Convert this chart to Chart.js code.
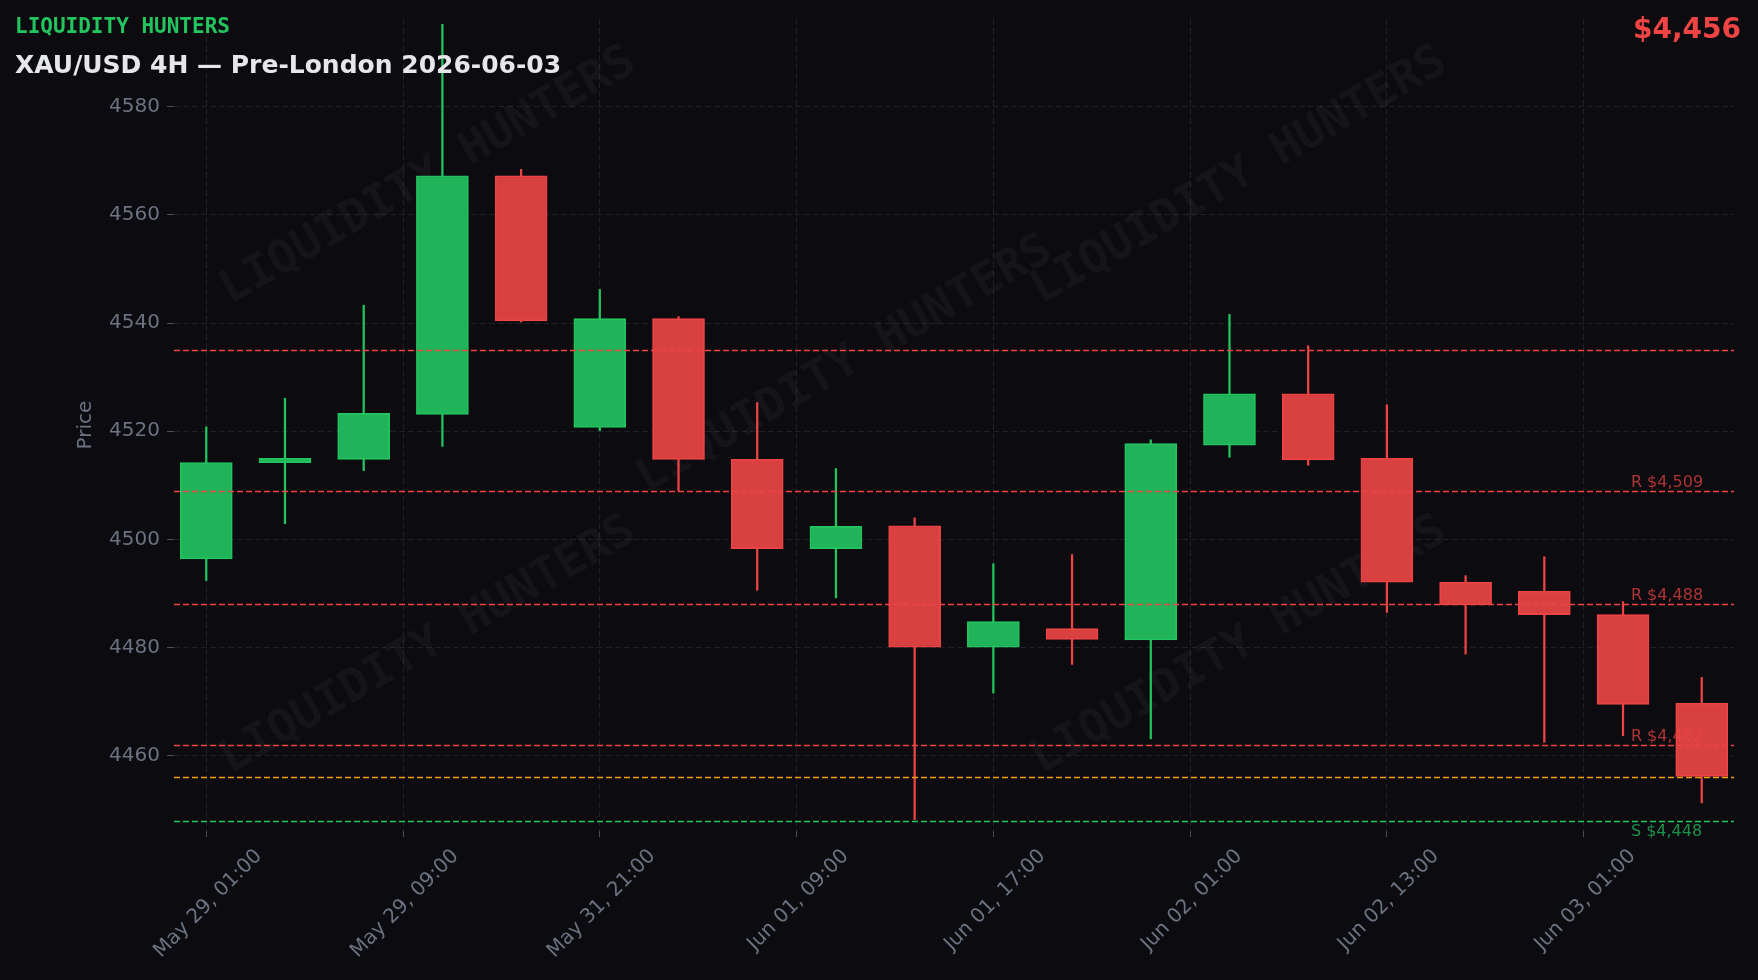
<!DOCTYPE html>
<html>
<head>
<meta charset="utf-8">
<script src="https://cdn.jsdelivr.net/npm/chart.js@4.4.1/dist/chart.umd.min.js"></script>
<style>
  html, body { margin: 0; padding: 0; background: #0b0b10; }
  canvas { display: block; }
</style>
</head>
<body>
<canvas id="candles" width="1758" height="980"></canvas>
<script>
// 4H candles, XAU/USD
const opens  = [4496.4, 4514.2, 4514.8, 4523.1, 4567.2, 4520.7, 4540.8, 4514.8, 4498.3, 4502.5,
                4480.1, 4483.5, 4481.4, 4517.4, 4526.9, 4515.0, 4492.1, 4490.4, 4486.1, 4469.7];
const highs  = [4520.8, 4526.1, 4543.3, 4595.2, 4568.4, 4546.2, 4541.2, 4525.3, 4513.1, 4504.0,
                4495.5, 4497.2, 4518.4, 4541.6, 4535.8, 4524.9, 4493.3, 4496.8, 4488.5, 4474.5];
const lows   = [4492.4, 4502.9, 4512.7, 4517.2, 4540.2, 4520.1, 4509.0, 4490.6, 4489.2, 4448.2,
                4471.6, 4476.9, 4463.1, 4515.2, 4513.7, 4486.5, 4478.8, 4462.5, 4463.7, 4451.3];
const closes = [4514.2, 4515.0, 4523.3, 4567.2, 4540.4, 4540.8, 4514.8, 4498.3, 4502.4, 4480.1,
                4484.8, 4481.5, 4517.7, 4526.9, 4514.7, 4492.1, 4487.9, 4486.1, 4469.5, 4456.2];

const xTickPos = [0, 2.5, 5, 7.5, 10, 12.5, 15, 17.5];
const xTickLabels = ['May 29, 01:00', 'May 29, 09:00', 'May 31, 21:00', 'Jun 01, 09:00',
                     'Jun 01, 17:00', 'Jun 02, 01:00', 'Jun 02, 13:00', 'Jun 03, 01:00'];
const yTicks = [4460, 4480, 4500, 4520, 4540, 4560, 4580];

// levels: price, label, kind
const levelPrices = [4535, 4509, 4488, 4462, 4456, 4448];
const levelLabels = ['', 'R $4,509', 'R $4,488', 'R $4,462', '', 'S $4,448'];
const levelKinds  = ['R', 'R', 'R', 'R', 'P', 'S'];
const lastPrice = '$4,456';

const GREEN = '#22c55e', GREEN_FILL = '#21b35a';
const RED = '#ef4444', RED_FILL = '#d94040';
const GRID = '#1e1f27', TXT = '#6b7280';

const idx = opens.map((_, i) => i);
const up = i => closes[i] >= opens[i];

const overlay = {
  id: 'overlay',
  beforeDatasetsDraw(chart) {
    const { ctx, chartArea: a } = chart;
    ctx.save();
    ctx.beginPath();
    ctx.rect(a.left, a.top, a.right - a.left, a.bottom - a.top);
    ctx.clip();
    ctx.font = 'bold 46px "DejaVu Sans Mono"';
    ctx.fillStyle = 'rgba(255,255,255,0.04)';
    ctx.textAlign = 'center';
    ctx.textBaseline = 'middle';
    const spots = [[0.163, 0.194], [0.43, 0.426], [0.683, 0.194], [0.163, 0.772], [0.683, 0.772]];
    spots.forEach(([fx, fy]) => {
      ctx.save();
      ctx.translate(a.left + fx * (a.right - a.left), a.top + fy * (a.bottom - a.top));
      ctx.rotate(-30 * Math.PI / 180);
      ctx.fillText('LIQUIDITY HUNTERS', 0, 0);
      ctx.restore();
    });
    ctx.restore();
  },
  afterDatasetsDraw(chart) {
    const { ctx, chartArea: a, scales } = chart;
    const ys = scales.y, xs = scales.x;
    ctx.save();
    levelPrices.forEach((p, i) => {
      const y = Math.round(ys.getPixelForValue(p)) + 0.5;
      const kind = levelKinds[i];
      ctx.strokeStyle = kind === 'R' ? RED : kind === 'S' ? GREEN : '#f59e0b';
      ctx.lineWidth = 1.5;
      ctx.setLineDash([6, 3]);
      ctx.beginPath();
      ctx.moveTo(a.left, y);
      ctx.lineTo(a.right, y);
      ctx.stroke();
      if (levelLabels[i]) {
        ctx.font = '16px "DejaVu Sans"';
        ctx.textAlign = 'left';
        const lx = xs.getPixelForValue(18.1);
        if (kind === 'S') {
          ctx.fillStyle = 'rgba(34,197,94,0.72)';
          ctx.textBaseline = 'top';
          ctx.fillText(levelLabels[i], lx, y + 2);
        } else {
          ctx.fillStyle = 'rgba(239,68,68,0.72)';
          ctx.textBaseline = 'alphabetic';
          ctx.fillText(levelLabels[i], lx, y - 5);
        }
      }
    });
    ctx.restore();
  },
  afterDraw(chart) {
    const { ctx, chartArea: a, scales } = chart;
    ctx.save();
    // x labels, rotated 45 and centred under the tick
    ctx.font = '20px "DejaVu Sans"';
    ctx.fillStyle = TXT;
    ctx.textAlign = 'right';
    ctx.textBaseline = 'top';
    const c45 = Math.SQRT1_2;
    xTickPos.forEach((v, i) => {
      const tx = scales.x.getPixelForValue(v);
      const L = ctx.measureText(xTickLabels[i]).width;
      ctx.save();
      ctx.translate(tx + c45 * (L - 15) / 2, a.bottom + 15);
      ctx.rotate(-Math.PI / 4);
      ctx.fillText(xTickLabels[i], 0, 0);
      ctx.restore();
    });

    ctx.textBaseline = 'alphabetic';
    ctx.textAlign = 'left';
    ctx.fillStyle = GREEN;
    ctx.font = 'bold 21px "DejaVu Sans Mono"';
    ctx.fillText('LIQUIDITY HUNTERS', 15, 33);
    ctx.fillStyle = '#e5e7eb';
    ctx.font = 'bold 25px "DejaVu Sans"';
    ctx.fillText('XAU/USD 4H \u2014 Pre-London 2026-06-03', 15, 73);
    ctx.fillStyle = RED;
    ctx.font = 'bold 28px "DejaVu Sans"';
    ctx.textAlign = 'right';
    ctx.fillText(lastPrice, 1741, 38);
    // y axis title
    ctx.translate(86, (a.top + a.bottom) / 2);
    ctx.rotate(-Math.PI / 2);
    ctx.textAlign = 'center';
    ctx.textBaseline = 'middle';
    ctx.fillStyle = TXT;
    ctx.font = '20px "DejaVu Sans"';
    ctx.fillText('Price', 0, 0);
    ctx.restore();
  }
};

const ctx = document.getElementById('candles').getContext('2d');
const chart = new Chart(ctx, {
  type: 'bar',
  data: {
    datasets: [{
      label: 'wick',
      data: idx.map(i => ({ x: i, y: [lows[i], highs[i]] })),
      backgroundColor: idx.map(i => up(i) ? GREEN : RED),
      barThickness: 1.6,
      grouped: false,
      order: 2
    }, {
      label: 'body',
      data: idx.map(i => ({ x: i, y: [opens[i], closes[i]] })),
      backgroundColor: idx.map(i => up(i) ? GREEN_FILL : RED_FILL),
      borderColor: idx.map(i => up(i) ? GREEN : RED),
      borderWidth: 1.6,
      borderSkipped: false,
      barThickness: 52,
      grouped: false,
      order: 1
    }]
  },
  options: {
    responsive: false,
    animation: false,
    layout: { padding: { left: 0, right: 24, top: 16, bottom: 0 } },
    plugins: { legend: { display: false }, tooltip: { enabled: false } },
    scales: {
      x: {
        type: 'linear',
        min: -0.41,
        max: 19.41,
        offset: false,
        afterBuildTicks: s => { s.ticks = xTickPos.map(v => ({ value: v })); },
        afterFit: s => { s.height = 149; },
        ticks: { display: false },
        grid: { offset: false, color: GRID, lineWidth: 1, tickColor: '#4b4f5a', tickLength: 6 },
        border: { display: false, dash: [6, 3] }
      },
      y: {
        type: 'linear',
        min: 4446.1,
        max: 4596.2,
        afterBuildTicks: s => { s.ticks = yTicks.map(v => ({ value: v })); },
        afterFit: s => { s.width = 174; },
        ticks: {
          color: TXT,
          padding: 7,
          font: { family: 'DejaVu Sans', size: 20 },
          callback: v => String(v)
        },
        grid: { color: GRID, lineWidth: 1, tickColor: '#4b4f5a', tickLength: 7 },
        border: { display: false, dash: [6, 3] }
      }
    }
  },
  plugins: [overlay]
});
</script>
</body>
</html>
